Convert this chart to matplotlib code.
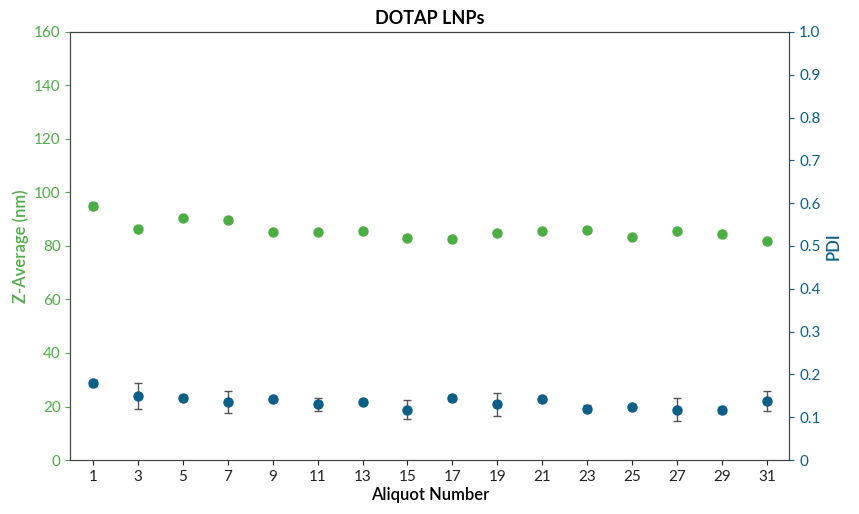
import matplotlib
matplotlib.use("Agg")
import matplotlib.pyplot as plt

aliquot = [1,3,5,7,9,11,13,15,17,19,21,23,25,27,29,31]
zavg = [95.0,86.2,90.3,89.6,85.2,85.2,85.5,83.0,82.5,85.0,85.6,86.0,83.4,85.4,84.3,81.9]
zavg_err = [1.2,0.5,0.5,0.6,0.4,0.4,0.4,0.5,0.5,0.4,0.4,0.8,0.6,0.4,0.4,0.5]
pdi = [0.180,0.150,0.145,0.135,0.142,0.130,0.136,0.118,0.145,0.130,0.142,0.120,0.123,0.118,0.116,0.138]
pdi_err = [0.007,0.030,0.004,0.026,0.004,0.015,0.004,0.022,0.008,0.026,0.005,0.008,0.003,0.026,0.007,0.023]

green = "#4dad45"
blue = "#0c5f86"
plt.rcParams['font.family'] = ['Lato', 'DejaVu Sans']
fig, ax = plt.subplots(figsize=(8.59, 5.14), dpi=100)
fig.subplots_adjust(left=0.082, right=0.919, top=0.938, bottom=0.105)
ax2 = ax.twinx()
ax.errorbar(aliquot, zavg, yerr=zavg_err, fmt='o', color=green, ms=6.5, ecolor='#555555', capsize=3, elinewidth=1)
ax2.errorbar(aliquot, pdi, yerr=pdi_err, fmt='o', color=blue, ms=6.5, ecolor='#555555', capsize=3, elinewidth=1)
ax.set_xlim(0, 32)
ax.set_ylim(0, 160)
ax2.set_ylim(0, 1.0)
ax.set_xticks(aliquot)
ax.set_yticks(range(0, 161, 20))
ax2.set_yticks([i/10 for i in range(11)])
ax2.set_yticklabels(['0'] + [f"{i/10:.1f}" for i in range(1, 11)])
ax.tick_params(axis='y', colors=green, labelsize=11)
ax2.tick_params(axis='y', colors=blue, labelsize=11)
ax.tick_params(axis='x', labelsize=11, colors='#222222')
for a in (ax, ax2):
    for s in a.spines.values():
        s.set_color('#444444')
ax.set_ylabel("Z-Average (nm)", color=green, fontsize=12, fontweight='semibold')
ax2.set_ylabel("PDI", color=blue, fontsize=12, fontweight='semibold')
ax.set_xlabel("Aliquot Number", fontsize=12, labelpad=2, fontweight='semibold')
ax.set_title("DOTAP LNPs", fontsize=13, pad=6, fontweight='bold')
fig.savefig("out.png")
